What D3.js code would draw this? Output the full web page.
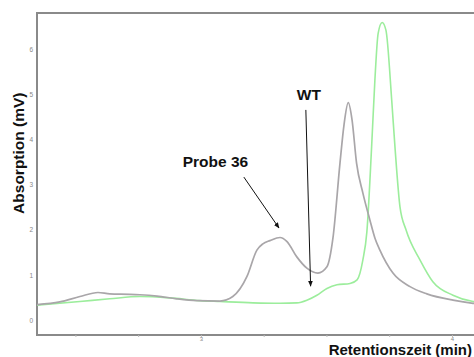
<!DOCTYPE html>
<html>
<head>
<meta charset="utf-8">
<script src="https://cdn.jsdelivr.net/npm/d3@7"></script>
<style>
  body { margin: 0; background: #fff; }
  svg { display: block; font-family: "Liberation Sans", Arial, sans-serif; }
</style>
</head>
<body>
<svg id="chart"></svg>
<script>
// Chart size
const width = 474;
const height = 357;

// Probe 36 trace (retention time in min, absorption in mV)
const probeTime = [2.347, 2.438, 2.518, 2.590, 2.637, 2.717, 2.757, 2.825, 2.904, 2.984,
  3.076, 3.127, 3.183, 3.223, 3.247, 3.275, 3.315, 3.343, 3.382, 3.422,
  3.466, 3.502, 3.526, 3.554, 3.570, 3.587, 3.602, 3.620, 3.645, 3.673,
  3.693, 3.713, 3.765, 3.833, 3.900, 4.004, 4.084, 4.15];
const probeValue = [0.34, 0.40, 0.52, 0.61, 0.58, 0.57, 0.56, 0.53, 0.47, 0.43,
  0.42, 0.52, 0.96, 1.55, 1.69, 1.76, 1.83, 1.74, 1.40, 1.15,
  1.04, 1.18, 1.82, 3.48, 4.33, 4.82, 4.44, 3.48, 2.82, 2.22,
  1.82, 1.55, 1.04, 0.74, 0.58, 0.44, 0.37, 0.34];

// WT trace
const wtTime = [2.347, 2.518, 2.637, 2.757, 2.876, 2.996, 3.076, 3.207, 3.315, 3.382,
  3.422, 3.462, 3.502, 3.542, 3.594, 3.622, 3.645, 3.661, 3.680, 3.693,
  3.706, 3.722, 3.737, 3.760, 3.773, 3.793, 3.817, 3.873, 3.924, 4.004,
  4.084, 4.15];
const wtValue = [0.33, 0.41, 0.47, 0.52, 0.49, 0.43, 0.41, 0.38, 0.37, 0.38,
  0.44, 0.55, 0.70, 0.78, 0.81, 0.89, 1.33, 1.95, 3.84, 5.32,
  6.36, 6.60, 6.43, 4.88, 3.84, 2.51, 2.00, 1.33, 0.85, 0.55,
  0.41, 0.38];

// Axis ticks
const xTicks = [2.5, 2.75, 3, 3.25, 3.5, 3.75, 4];
const xTickLabels = ["", "", "3", "", "", "", "4"];
const yTicks = [0, 1, 2, 3, 4, 5, 6];

// Annotations: label position and arrow (data units)
const notes = [
  { text: "Probe 36", tx: 3.058, ty: 3.39, x1: 3.171, y1: 3.17, x2: 3.311, y2: 2.04 },
  { text: "WT", tx: 3.430, ty: 4.88, x1: 3.418, y1: 4.66, x2: 3.437, y2: 0.75 }
];

const svg = d3.select("#chart")
    .attr("width", width)
    .attr("height", height);

// Scales (plot frame runs off the right edge like the original)
const x = d3.scaleLinear().domain([2.347, 4.15]).range([37, 489.6]);
const y = d3.scaleLinear().domain([-0.333, 6.81]).range([335, 13]);

// Arrow head
svg.append("defs").append("marker")
    .attr("id", "head")
    .attr("viewBox", "0 0 10 10")
    .attr("refX", 9).attr("refY", 5)
    .attr("markerWidth", 6).attr("markerHeight", 6)
    .attr("orient", "auto")
    .append("path")
    .attr("d", "M0,1 L10,5 L0,9 Z")
    .attr("fill", "#111");

// Frame
svg.append("path")
    .attr("d", `M${x(4.15)},${y(6.81)} H${x(2.347)} V${y(-0.333)} H${x(4.15)}`)
    .attr("fill", "none")
    .attr("stroke", "#8a8a8a")
    .attr("stroke-width", 2);

// X axis ticks
const xAxis = svg.append("g")
    .attr("transform", `translate(0,${y(-0.333)})`)
    .call(d3.axisBottom(x).tickValues(xTicks)
        .tickFormat((d, i) => xTickLabels[i]).tickSize(2).tickPadding(0));
xAxis.select(".domain").remove();
xAxis.selectAll("line").attr("stroke", "#bbb");
xAxis.selectAll("text").attr("fill", "#888").attr("font-size", 6);

// Y axis labels
const yAxis = svg.append("g")
    .attr("transform", `translate(${x(2.347)},0)`)
    .call(d3.axisLeft(y).tickValues(yTicks).tickSize(0).tickPadding(4));
yAxis.select(".domain").remove();
yAxis.selectAll("text").attr("fill", "#888").attr("font-size", 6.5);

// Traces
const line = d3.line()
    .x(d => x(d[0]))
    .y(d => y(d[1]))
    .curve(d3.curveMonotoneX);

svg.append("path")
    .datum(wtTime.map((t, i) => [t, wtValue[i]]))
    .attr("fill", "none")
    .attr("stroke", "#9ced9c")
    .attr("stroke-width", 1.6)
    .attr("d", line);

svg.append("path")
    .datum(probeTime.map((t, i) => [t, probeValue[i]]))
    .attr("fill", "none")
    .attr("stroke", "#a9a6a9")
    .attr("stroke-width", 1.7)
    .attr("d", line);

// Annotations
const note = svg.append("g").selectAll("g")
    .data(notes)
    .enter().append("g");

note.append("text")
    .attr("x", d => x(d.tx))
    .attr("y", d => y(d.ty))
    .attr("text-anchor", "middle")
    .attr("font-size", 15.5)
    .attr("font-weight", "bold")
    .attr("fill", "#111")
    .text(d => d.text);

note.append("line")
    .attr("x1", d => x(d.x1)).attr("y1", d => y(d.y1))
    .attr("x2", d => x(d.x2)).attr("y2", d => y(d.y2))
    .attr("stroke", "#111")
    .attr("stroke-width", 1)
    .attr("marker-end", "url(#head)");

// Axis titles
svg.append("text")
    .attr("x", 472)
    .attr("y", 355)
    .attr("text-anchor", "end")
    .attr("font-size", 15)
    .attr("font-weight", "bold")
    .attr("fill", "#111")
    .text("Retentionszeit (min)");

svg.append("text")
    .attr("transform", `translate(24,${y(3.7)}) rotate(-90)`)
    .attr("text-anchor", "middle")
    .attr("font-size", 15.5)
    .attr("font-weight", "bold")
    .attr("fill", "#111")
    .text("Absorption (mV)");
</script>
</body>
</html>
